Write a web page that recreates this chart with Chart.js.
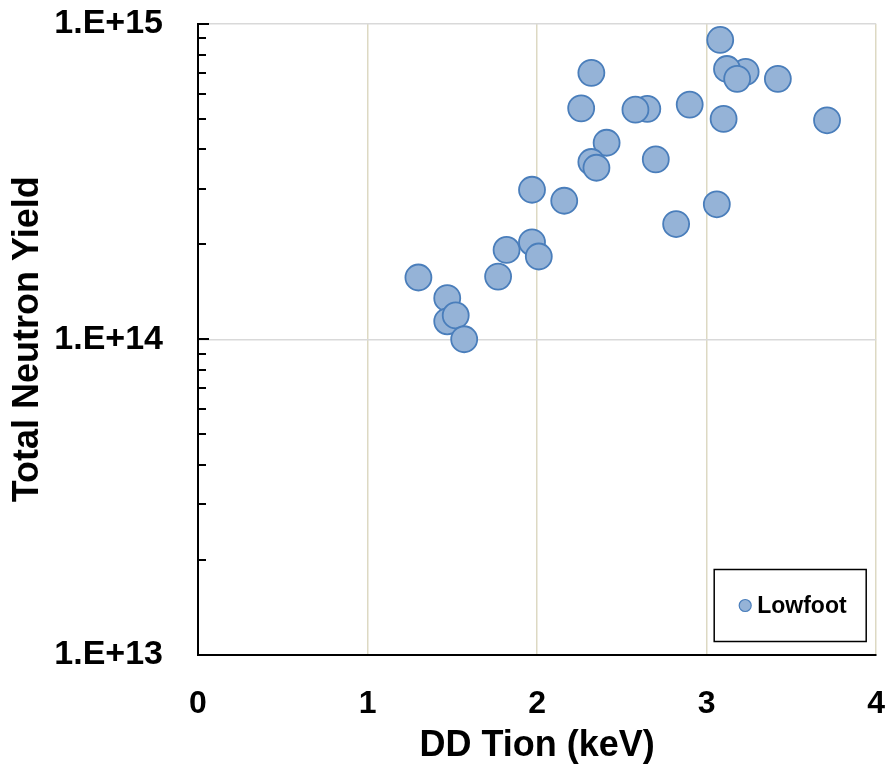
<!DOCTYPE html>
<html>
<head>
<meta charset="utf-8">
<script src="https://cdn.jsdelivr.net/npm/chart.js@4.4.1/dist/chart.umd.min.js"></script>
<style>
  html, body { margin: 0; padding: 0; background: #ffffff; }
  #wrap { width: 891px; height: 769px; position: relative; }
</style>
</head>
<body>
<div id="wrap"><canvas id="c" width="891" height="769"></canvas></div>
<script>
// ---- data ----
const seriesName = "Lowfoot";
const tionKeV = [3.23, 3.12, 3.18, 3.08, 3.42, 2.32, 2.26, 2.65, 2.58, 2.90, 3.10, 3.71,
                 2.41, 2.32, 2.35, 2.70, 1.97, 2.16, 3.06, 2.82, 1.97, 2.01, 1.82, 1.77,
                 1.30, 1.47, 1.47, 1.52, 1.57];
const neutronYield = [7.05e14, 7.2e14, 6.7e14, 8.9e14, 6.7e14, 7.0e14, 5.4e14, 5.38e14, 5.35e14, 5.55e14, 5.0e14, 4.95e14,
                      4.2e14, 3.65e14, 3.5e14, 3.72e14, 2.98e14, 2.75e14, 2.68e14, 2.32e14, 2.03e14, 1.83e14, 1.92e14, 1.58e14,
                      1.57e14, 1.35e14, 1.14e14, 1.19e14, 1.0e14];
const xTicks = [0, 1, 2, 3, 4];
const yMajorTicks = [1e13, 1e14, 1e15];
const yTickLabels = ["1.E+13", "1.E+14", "1.E+15"];
const xTitle = "DD Tion (keV)";
const yTitle = "Total Neutron Yield";

const points = tionKeV.map((x, i) => ({ x: x, y: neutronYield[i] }));

Chart.defaults.font.family = "'Liberation Sans', Arial, sans-serif";
Chart.defaults.font.weight = "bold";
Chart.defaults.color = "#000000";

function isMajor(v) {
  return yMajorTicks.some(m => Math.abs(v - m) / m < 1e-6);
}

const minorTickPlugin = {
  id: 'minorTicks',
  afterDraw(chart) {
    const ctx = chart.ctx;
    const ys = chart.scales.y;
    const left = chart.chartArea.left;
    ctx.save();
    ctx.strokeStyle = '#000000';
    ctx.lineWidth = 2;
    ys.ticks.forEach(t => {
      const py = Math.round(ys.getPixelForValue(t.value));
      const len = isMajor(t.value) ? 11 : 8;
      ctx.beginPath();
      ctx.moveTo(left, py);
      ctx.lineTo(left + len, py);
      ctx.stroke();
    });
    ctx.restore();
  }
};

const legendBoxPlugin = {
  id: 'legendBox',
  afterDraw(chart) {
    const ctx = chart.ctx;
    const ca = chart.chartArea;
    const ds = chart.data.datasets[0];
    const w = 152, h = 72;
    const bx = ca.right - 10 - w;
    const by = ca.bottom - 13 - h;
    ctx.save();
    ctx.fillStyle = '#ffffff';
    ctx.fillRect(bx, by, w, h);
    ctx.strokeStyle = '#000000';
    ctx.lineWidth = 1.5;
    ctx.strokeRect(bx, by, w, h);
    const cy = by + h / 2;
    const mx = bx + 31;
    ctx.beginPath();
    ctx.arc(mx, cy, 6, 0, Math.PI * 2);
    ctx.fillStyle = ds.backgroundColor;
    ctx.fill();
    ctx.lineWidth = 1.2;
    ctx.strokeStyle = ds.borderColor;
    ctx.stroke();
    ctx.fillStyle = '#000000';
    ctx.font = "bold 23px 'Liberation Sans', Arial, sans-serif";
    ctx.textAlign = 'left';
    ctx.textBaseline = 'middle';
    ctx.fillText(ds.label, mx + 12, cy + 1);
    ctx.restore();
  }
};

new Chart(document.getElementById('c'), {
  type: 'scatter',
  data: {
    datasets: [{
      label: seriesName,
      data: points,
      backgroundColor: '#95b3d7',
      borderColor: '#4a7ebb',
      borderWidth: 1.8,
      pointRadius: 13,
      pointHoverRadius: 13
    }]
  },
  options: {
    responsive: false,
    animation: false,
    events: [],
    layout: { padding: { left: 0, top: 24, right: 14, bottom: 0 } },
    plugins: { legend: { display: false }, tooltip: { enabled: false } },
    scales: {
      x: {
        type: 'linear',
        min: 0, max: 4,
        afterBuildTicks(scale) { scale.ticks = xTicks.map(v => ({ value: v })); },
        afterFit(scale) {
          scale.height = 769 - 654.5;
          scale.paddingLeft = 0; scale.paddingRight = 0;
        },
        ticks: { font: { size: 32, weight: 'bold' }, color: '#000', padding: 30, maxRotation: 0 },
        grid: { color: '#ddd9c3', lineWidth: 1.5, drawTicks: false },
        border: { display: true, color: '#000000', width: 2 },
        title: { display: true, text: xTitle, font: { size: 36, weight: 'bold' }, color: '#000', padding: { top: 0, bottom: 1 } }
      },
      y: {
        type: 'logarithmic',
        min: 1e13, max: 1e15,
        afterBuildTicks(scale) {
          const t = [];
          for (let e = 13; e <= 15; e++) {
            for (let m = 1; m <= 9; m++) {
              const v = m * Math.pow(10, e);
              if (v <= 1e15 * 1.000001) t.push({ value: v, major: m === 1 });
            }
          }
          scale.ticks = t;
        },
        afterFit(scale) {
          scale.width = 198;
          scale.paddingTop = 0; scale.paddingBottom = 0;
        },
        ticks: {
          autoSkip: false,
          font: { size: 34, weight: 'bold' }, color: '#000', padding: 35,
          callback(v) {
            const i = yMajorTicks.findIndex(m => Math.abs(v - m) / m < 1e-6);
            return i >= 0 ? yTickLabels[i] : '';
          }
        },
        grid: {
          drawTicks: false,
          lineWidth: 1.5,
          color(ctx) { return (ctx.tick && isMajor(ctx.tick.value)) ? '#d9d9d9' : 'rgba(0,0,0,0)'; }
        },
        border: { display: true, color: '#000000', width: 2 },
        title: { display: true, text: yTitle, font: { size: 36, weight: 'bold' }, color: '#000', padding: { top: 6, bottom: 0 } }
      }
    }
  },
  plugins: [minorTickPlugin, legendBoxPlugin]
});
</script>
</body>
</html>
